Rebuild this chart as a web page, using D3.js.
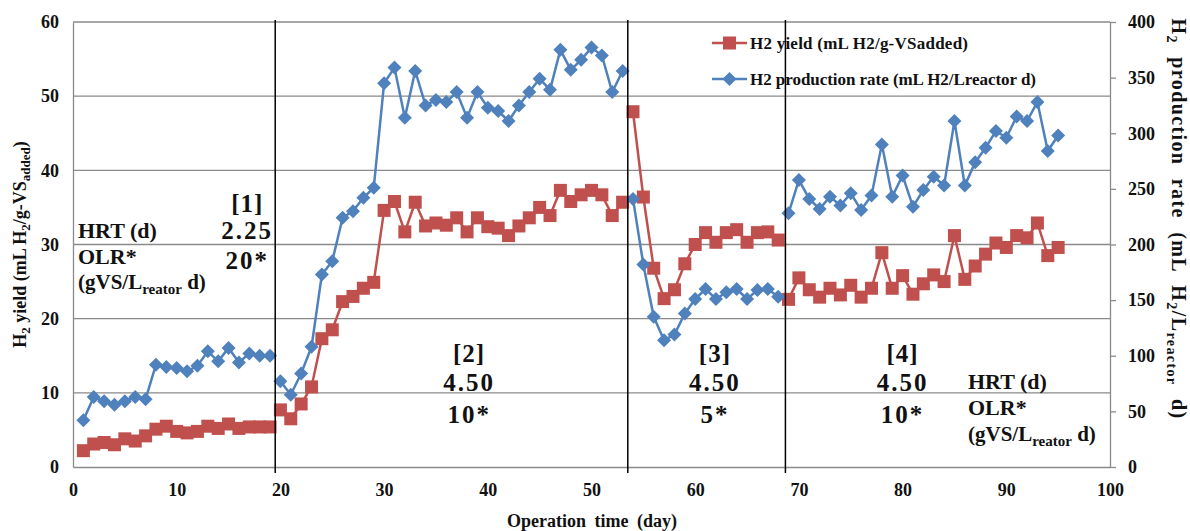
<!DOCTYPE html>
<html>
<head>
<meta charset="utf-8">
<script src="https://cdn.jsdelivr.net/npm/d3@7"></script>
<style>
  body { margin: 0; background: #fff; }
  svg { display: block; font-family: "Liberation Serif", "Times New Roman", serif; }
</style>
</head>
<body>
<svg id="chart"></svg>
<script>
// operation days
const days = [1, 2, 3, 4, 5, 6, 7, 8, 9, 10, 11, 12, 13, 14, 15, 16, 17, 18, 19,
  20, 21, 22, 23, 24, 25, 26, 27, 28, 29, 30, 31, 32, 33, 34, 35, 36, 37, 38, 39,
  40, 41, 42, 43, 44, 45, 46, 47, 48, 49, 50, 51, 52, 53, 54, 55, 56, 57, 58, 59,
  60, 61, 62, 63, 64, 65, 66, 67, 68, 69, 70, 71, 72, 73, 74, 75, 76, 77, 78, 79,
  80, 81, 82, 83, 84, 85, 86, 87, 88, 89, 90, 91, 92, 93, 94, 95];

// H2 yield (mL H2/g-VSadded) - left axis
const h2Yield = [2.2, 3.1, 3.3, 3.0, 3.8, 3.5, 4.2, 5.1, 5.5, 4.8, 4.6, 4.8, 5.5, 5.2, 5.8, 5.2, 5.4, 5.4, 5.4,
  7.7, 6.5, 8.5, 10.8, 17.3, 18.5, 22.3, 23.0, 24.1, 24.9,
  34.6, 35.8, 31.7, 35.7, 32.5, 32.9, 32.6, 33.6, 31.7, 33.6, 32.4, 32.2, 31.2, 32.5, 33.6, 35.0, 33.9, 37.3, 35.8, 36.7, 37.3, 36.7, 33.9, 35.7,
  47.9, 36.4, 26.8, 22.7, 23.9, 27.4, 30.0, 31.6, 30.3, 31.6, 32.0, 30.3, 31.6, 31.7, 30.6,
  22.6, 25.5, 23.9, 22.9, 24.1, 23.2, 24.5, 22.9, 24.1, 28.9, 24.1, 25.8, 23.3,
  24.7, 25.9, 25.0, 31.2, 25.3, 27.1, 28.7, 30.2, 29.6, 31.2, 30.9, 32.9, 28.5, 29.6];

// H2 production rate (mL H2/L reactor d) - right axis
const h2Rate = [42, 63, 59, 56, 59, 63, 61, 92, 90, 89, 86, 91, 104, 95, 107, 94, 102, 100, 100,
  77, 65, 84, 108, 173, 185, 224, 230, 242, 251,
  345, 359, 314, 356, 325, 330, 328, 337, 314, 337, 323, 320, 311, 325, 337, 349, 339, 375, 357, 366, 377, 370, 337, 356,
  241, 182, 135, 114, 119, 138, 151, 160, 151, 157, 160, 151, 159, 160, 153,
  228, 258, 241, 232, 243, 235, 246, 231, 244, 290, 243, 262, 234,
  249, 261, 253, 311, 253, 274, 287, 302, 296, 315, 311, 328, 284, 298];

// phase boundaries (days) and phase labels
const phaseBounds = [19.5, 53.5, 68.7];
const phaseNames = ['[1]', '[2]', '[3]', '[4]'];
const phaseHRT = ['2.25', '4.50', '4.50', '4.50'];
const phaseOLR = ['20*', '10*', '5*', '10*'];

const xTicks = [0, 10, 20, 30, 40, 50, 60, 70, 80, 90, 100];
const leftTicks = [0, 10, 20, 30, 40, 50, 60];
const rightTicks = [0, 50, 100, 150, 200, 250, 300, 350, 400];

const W = 1190, H = 531;
const pLeft = 73, pRight = 1110, pTop = 22, pBottom = 467;
const red = '#C0504D', blue = '#4F81BD', gridCol = '#8a8a8a';

const svg = d3.select('#chart').attr('width', W).attr('height', H);

const x = d3.scaleLinear().domain([0, 100]).range([pLeft, pRight]);
const yL = d3.scaleLinear().domain([0, 60]).range([pBottom, pTop]);
const yR = d3.scaleLinear().domain([0, 400]).range([pBottom, pTop]);

// gridlines
svg.append('g')
  .selectAll('line')
  .data(leftTicks.slice(1))
  .enter()
  .append('line')
  .attr('x1', pLeft).attr('x2', pRight)
  .attr('y1', d => yL(d)).attr('y2', d => yL(d))
  .attr('stroke', gridCol).attr('stroke-width', 1.3);

// left axis
const gL = svg.append('g').attr('transform', 'translate(' + pLeft + ',0)')
  .call(d3.axisLeft(yL).tickValues(leftTicks).tickSize(0).tickPadding(14));
gL.select('.domain').attr('stroke', gridCol).attr('stroke-width', 1.3);

// right axis
const gR = svg.append('g').attr('transform', 'translate(' + pRight + ',0)')
  .call(d3.axisRight(yR).tickValues(rightTicks).tickSizeOuter(0).tickSizeInner(6).tickPadding(12));
gR.select('.domain').attr('stroke', gridCol).attr('stroke-width', 1.3);
gR.selectAll('.tick line').attr('stroke', gridCol).attr('stroke-width', 1.3);

// bottom axis
const gX = svg.append('g').attr('transform', 'translate(0,' + pBottom + ')')
  .call(d3.axisBottom(x).tickValues(xTicks).tickSize(0).tickPadding(16));
gX.select('.domain').attr('stroke', gridCol).attr('stroke-width', 1.3);

svg.selectAll('.tick text')
  .attr('font-family', '"Liberation Serif", serif')
  .attr('font-size', 18)
  .attr('font-weight', 'bold')
  .attr('fill', '#111');

// series, split into phases
const phaseOf = d => phaseBounds.filter(b => d > b).length;
const yieldPts = days.map((d, i) => ({ day: d, v: h2Yield[i], p: phaseOf(d) }));
const ratePts = days.map((d, i) => ({ day: d, v: h2Rate[i], p: phaseOf(d) }));

const diamond = (s) => 'M0,' + (-s) + 'L' + s + ',0L0,' + s + 'L' + (-s) + ',0Z';

function drawSeries(pts, y, color, marker) {
  const g = svg.append('g');
  const line = d3.line().x(d => x(d.day)).y(d => y(d.v));
  const groups = d3.groups(pts, d => d.p);
  g.selectAll('path.seg')
    .data(groups)
    .enter()
    .append('path')
    .attr('class', 'seg')
    .attr('d', d => line(d[1]))
    .attr('fill', 'none')
    .attr('stroke', color)
    .attr('stroke-width', 2.5);
  if (marker === 'square') {
    g.selectAll('rect')
      .data(pts)
      .enter()
      .append('rect')
      .attr('x', d => x(d.day) - 6.5)
      .attr('y', d => y(d.v) - 6.5)
      .attr('width', 13).attr('height', 13)
      .attr('fill', color);
  } else {
    g.selectAll('path.mk')
      .data(pts)
      .enter()
      .append('path')
      .attr('class', 'mk')
      .attr('transform', d => 'translate(' + x(d.day) + ',' + y(d.v) + ')')
      .attr('d', diamond(7))
      .attr('fill', color);
  }
}

drawSeries(yieldPts, yL, red, 'square');
drawSeries(ratePts, yR, blue, 'diamond');

// legend
const legend = [
  { name: 'H2 yield (mL H2/g-VSadded)', color: red, marker: 'square', y: 43, w: 218 },
  { name: 'H2 production rate (mL H2/Lreactor d)', color: blue, marker: 'diamond', y: 79, w: 286 }
];
const lg = svg.append('g');
legend.forEach(l => {
  lg.append('line').attr('x1', 712).attr('x2', 747).attr('y1', l.y).attr('y2', l.y)
    .attr('stroke', l.color).attr('stroke-width', 2.5);
  if (l.marker === 'square') {
    lg.append('rect').attr('x', 723).attr('y', l.y - 6.5).attr('width', 13).attr('height', 13).attr('fill', l.color);
  } else {
    lg.append('path').attr('transform', 'translate(729.5,' + l.y + ')').attr('d', diamond(7)).attr('fill', l.color);
  }
  lg.append('text').attr('x', 750).attr('y', l.y + 6)
    .attr('font-size', 17).attr('font-weight', 'bold')
    .attr('textLength', l.w).attr('lengthAdjust', 'spacing')
    .attr('fill', '#111')
    .text(l.name);
});

// phase separators
svg.append('g')
  .selectAll('line')
  .data(phaseBounds)
  .enter()
  .append('line')
  .attr('x1', d => x(d)).attr('x2', d => x(d))
  .attr('y1', pTop - 2).attr('y2', pBottom + 6)
  .attr('stroke', '#000').attr('stroke-width', 1.5);

// phase annotations
const phaseCenters = [16.8, 38.2, 61.9, 80.0];
const phaseRows = [[212, 239, 269], [362, 391, 423], [362, 391, 423], [362, 391, 423]];
const ann = svg.append('g').attr('font-weight', 'bold').attr('fill', '#111').attr('text-anchor', 'middle');
phaseNames.forEach((n, i) => {
  const cx = x(phaseCenters[i]);
  [n, phaseHRT[i], phaseOLR[i]].forEach((t, j) => {
    ann.append('text')
      .attr('x', cx).attr('y', phaseRows[i][j])
      .attr('font-size', 25)
      .attr('letter-spacing', j === 0 ? 1 : 2)
      .text(t);
  });
});

// HRT / OLR labels
function labelBlock(x0, ys) {
  const g = svg.append('g').attr('font-weight', 'bold').attr('fill', '#111');
  g.append('text').attr('x', x0).attr('y', ys[0]).attr('font-size', 22).text('HRT (d)');
  g.append('text').attr('x', x0).attr('y', ys[1]).attr('font-size', 22).text('OLR*');
  const t = g.append('text').attr('x', x0).attr('y', ys[2]).attr('font-size', 21);
  t.append('tspan').text('(gVS/L');
  t.append('tspan').attr('font-size', 15).attr('dy', 5).text('reator');
  t.append('tspan').attr('dy', -5).text(' d)');
}
labelBlock(78, [238, 264, 289]);
labelBlock(968, [389, 415, 441]);

// axis titles
const tl = svg.append('text')
  .attr('transform', 'translate(26,' + ((pTop + pBottom) / 2) + ') rotate(-90)')
  .attr('text-anchor', 'middle')
  .attr('font-size', 18).attr('font-weight', 'bold').attr('fill', '#111');
tl.append('tspan').text('H');
tl.append('tspan').attr('font-size', 13).attr('dy', 4).text('2');
tl.append('tspan').attr('dy', -4).text(' yield (mL  H');
tl.append('tspan').attr('font-size', 13).attr('dy', 4).text('2');
tl.append('tspan').attr('dy', -4).text('/g-VS');
tl.append('tspan').attr('font-size', 13).attr('dy', 4).text('added');
tl.append('tspan').attr('dy', -4).text(')');

const tr = svg.append('text')
  .attr('transform', 'translate(1172,219) rotate(90)')
  .attr('text-anchor', 'middle')
  .attr('font-size', 20).attr('font-weight', 'bold').attr('fill', '#111')
  .attr('letter-spacing', 1.4).attr('word-spacing', 7);
tr.append('tspan').text('H');
tr.append('tspan').attr('font-size', 14).attr('dy', 5).text('2');
tr.append('tspan').attr('dy', -5).text(' production rate (mL H');
tr.append('tspan').attr('font-size', 14).attr('dy', 5).text('2');
tr.append('tspan').attr('dy', -5).text('/L');
tr.append('tspan').attr('font-size', 14).attr('dy', 5).text('reactor');
tr.append('tspan').attr('dy', -5).text(' d)');

svg.append('text')
  .attr('x', 592).attr('y', 527)
  .attr('text-anchor', 'middle')
  .attr('font-size', 18).attr('font-weight', 'bold').attr('fill', '#111')
  .attr('word-spacing', 4)
  .text('Operation time (day)');
</script>
</body>
</html>
